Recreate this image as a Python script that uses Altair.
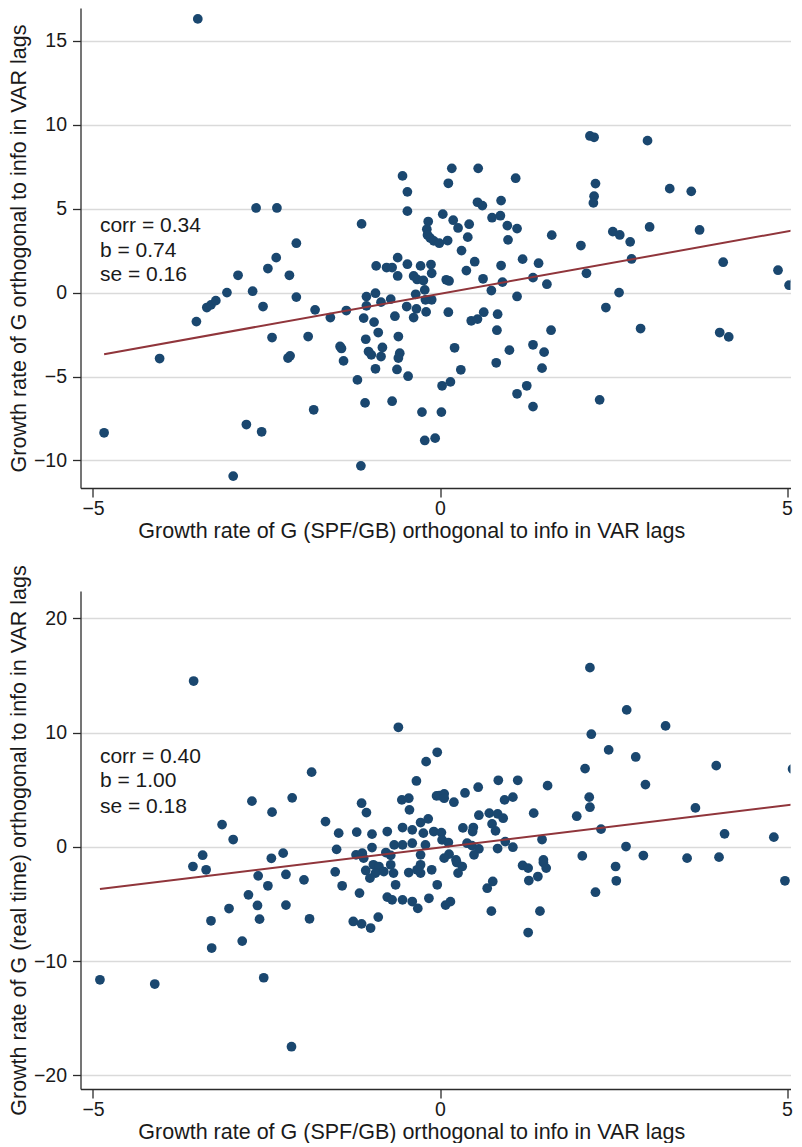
import altair as alt
import pandas as pd

FONT = "Liberation Sans"
NAVY = "#1a476f"
MAROON = "#90353b"
AX = "#2b2b2b"
GRID = "#dadada"
TXT = "#1a1a1a"

x_ticks = [-5, 0, 5]
x_title = "Growth rate of G (SPF/GB) orthogonal to info in VAR lags"

# ---------------- top panel ----------------
top_x = [
    -3.49, -2.65, -2.35, -2.07, -1.13, -0.54, -0.47, -0.47, -0.17, -0.19,
    -0.18, -0.14, -0.09, -0.01, 0.11, 2.16, 2.22, 2.99, 0.17, 0.55,
    0.12, 1.09, 2.24, 3.31, 3.62, 2.22, 2.21, 0.54, 0.61, 0.88,
    0.04, 0.19, 0.26, 0.42, 0.75, 0.87, 0.97, 1.11, 0.40, 0.98,
    1.61, 2.03, 2.49, 2.59, 2.74, 3.02, 3.74, 0.31, 0.50, 0.38,
    0.88, 1.19, 1.42, -0.13, -0.12, 0.09, 0.13, 0.62, 0.90, 1.34,
    1.54, 2.11, 2.76, 4.08, 4.87, 5.03, 5.12, 0.74, 1.11, -0.12,
    2.58, 2.39, 0.12, -0.20, 0.45, 0.54, 0.63, 0.83, 0.82, 1.60,
    2.89, 4.03, 4.16, 0.21, 1.00, 1.34, 1.50, 0.81, 0.30, 1.47,
    0.03, 0.15, 1.11, 1.25, 1.34, 2.30, 0.02, -0.07, -0.22, -4.84,
    -4.04, -3.51, -3.36, -3.30, -3.23, -3.07, -2.91, -2.70, -2.55, -2.48,
    -2.36, -2.17, -2.07, -2.42, -2.19, -2.16, -1.90, -1.80, -1.58, -1.35,
    -1.82, -2.79, -2.57, -2.98, -1.14, -1.44, -1.42, -1.39, -1.19, -1.08,
    -0.69, -0.26, -1.07, -1.03, -0.99, -0.93, -0.89, -0.83, -0.85, -1.10,
    -0.95, -0.65, -0.60, -0.58, -0.60, -0.62, -0.46, -1.06, -0.93, -1.06,
    -0.85, -0.71, -0.92, -0.77, -0.69, -0.61, -0.47, -0.61, -0.38, -0.33,
    -0.24, -0.28, -0.22, -0.35, -0.21, -0.48, -0.34, -0.38,
]
top_y = [
    16.30, 5.04, 5.04, 2.94, 4.09, 6.95, 6.00, 4.85, 4.23, 3.77,
    3.43, 3.24, 3.08, 2.94, 3.10, 9.33, 9.25, 9.05, 7.40, 7.40,
    6.51, 6.81, 6.49, 6.19, 6.03, 5.74, 5.34, 5.38, 5.18, 5.48,
    4.67, 4.31, 3.85, 4.07, 4.46, 4.58, 3.99, 3.81, 3.30, 3.14,
    3.42, 2.80, 3.63, 3.43, 3.02, 3.91, 3.73, 2.50, 1.84, 1.31,
    1.61, 1.99, 1.75, 1.67, 1.15, 0.76, 0.69, 0.82, 0.62, 0.89,
    0.50, 1.15, 2.00, 1.81, 1.33, 0.44, 0.71, 0.12, -0.23, -0.43,
    0.00, -0.89, -1.17, -1.15, -1.68, -1.58, -1.17, -1.29, -2.24, -2.24,
    -2.14, -2.38, -2.64, -3.29, -3.43, -3.11, -3.55, -4.18, -4.60, -4.50,
    -5.55, -5.32, -6.03, -5.55, -6.79, -6.39, -7.12, -8.67, -8.81, -8.35,
    -3.93, -1.73, -0.89, -0.73, -0.48, 0.00, 1.03, 0.08, -0.83, 1.43,
    2.08, 1.03, -0.27, -2.68, -3.90, -3.77, -2.62, -1.03, -1.49, -1.07,
    -6.98, -7.86, -8.29, -10.93, -10.32, -3.21, -3.33, -4.07, -5.20, -6.57,
    -6.47, -7.12, -2.78, -3.51, -3.71, -4.54, -2.38, -3.27, -3.81, -1.52,
    -1.76, -1.41, -2.62, -3.61, -3.90, -4.58, -4.98, -0.24, -0.04, -0.79,
    -0.57, -0.39, 1.59, 1.49, 1.49, 2.08, 1.69, 0.99, 0.99, 0.78,
    0.72, 1.59, 0.16, -0.10, -0.43, -0.83, -0.97, -1.49,
]
top_line_x = [-4.84, 5.12]
top_line_y = [-3.67, 3.73]
top_stats = ["corr = 0.34", "b = 0.74", "se = 0.16"]
top_stats_y = [3.58, 2.14, 0.67]
top_y_ticks = [-10, -5, 0, 5, 10, 15]
top_y_title = "Growth rate of G orthogonal to info in VAR lags"

# ---------------- bottom panel ----------------
bot_x = [
    -3.55, -0.60, -1.85, -2.71, -2.42, -2.13, -3.14, -2.98, -3.42, -2.43,
    -2.26, -1.65, -1.46, -1.49, -1.20, -1.13, -1.06, -0.98, -0.98, -0.76,
    -0.55, -0.45, -0.44, -0.34, -0.20, -0.04, -0.05, -0.54, -0.40, -0.28,
    -0.17, -0.24, -0.09, -0.66, -0.54, -0.40, -0.21, -1.21, -1.12, -0.78,
    -0.71, -0.28, 2.16, 2.69, 3.25, 2.18, 2.43, 2.82, 2.09, 3.98,
    5.08, 2.96, 0.84, 1.12, 0.55, 1.55, 0.36, -0.01, 0.06, 0.06,
    0.20, 0.93, 1.05, 0.56, 0.71, 0.83, 0.91, 1.35, 1.97, 2.15,
    2.16, 3.68, 0.33, 0.48, 0.47, 0.75, 0.80, 0.02, 0.03, 0.12,
    0.39, 0.46, 0.56, 0.83, 0.94, 1.05, 1.47, 2.32, 4.10, 4.81,
    2.68, 2.05, 2.93, 3.56, 4.02, 1.49, 0.49, 0.13, 0.06, 0.23,
    4.97, 2.53, 2.54, 2.24, 1.19, 1.27, 1.49, 1.53, 1.41, 1.28,
    0.68, 0.76, 0.74, 1.44, 1.27, 0.24, 0.32, 0.26, -0.12, -0.04,
    -0.16, 0.08, 0.15, -4.90, -4.11, -2.54, -2.14, -3.56, -3.37, -3.30,
    -3.29, -3.04, -2.85, -2.76, -2.63, -2.60, -2.62, -2.48, -2.22, -2.22,
    -1.96, -1.88, -1.51, -1.41, -1.16, -1.25, -1.13, -1.00, -0.89, -1.10,
    -1.07, -0.96, -0.88, -0.93, -0.81, -1.01, -0.71, -0.67, -0.64, -0.76,
    -0.69, -0.54, -0.40, -0.32, -0.45, -0.28, -0.28, -0.33,
]
bot_y = [
    14.52, 10.47, 6.54, 4.00, 3.04, 4.29, 1.95, 0.64, -0.73, -1.00,
    -0.55, 2.21, 1.20, -0.22, 1.29, 3.82, 3.00, 1.11, -0.06, 1.34,
    4.11, 4.26, 3.24, 5.77, 7.46, 8.28, 4.46, 1.69, 1.49, 2.13,
    2.45, 1.20, 1.34, 0.17, 0.17, 0.32, 0.17, -0.70, -0.55, -0.50,
    -0.75, -0.70, 15.69, 11.99, 10.59, 9.86, 8.49, 7.87, 6.85, 7.11,
    6.82, 5.45, 5.83, 5.83, 5.22, 5.36, 4.72, 4.49, 4.64, 4.26,
    3.91, 4.11, 4.35, 2.77, 2.95, 2.89, 2.51, 2.95, 2.68, 4.35,
    3.47, 3.41, 1.66, 1.69, 1.34, 2.01, 1.40, 1.25, 0.61, 0.38,
    0.32, 0.11, -0.18, -0.15, 0.46, -0.03, 0.64, 1.55, 1.14, 0.85,
    0.03, -0.79, -0.76, -0.99, -0.90, -1.14, -0.70, -0.64, -0.99, -1.14,
    -2.97, -1.72, -2.97, -3.97, -1.63, -1.86, -1.37, -1.86, -2.60, -2.95,
    -3.62, -3.03, -5.63, -5.63, -7.50, -1.37, -1.72, -2.30, -2.01, -3.32,
    -4.50, -5.10, -4.80, -11.64, -12.01, -11.46, -17.50, -1.72, -2.01, -6.47,
    -8.86, -5.40, -8.25, -4.20, -5.13, -6.33, -2.54, -3.41, -2.42, -5.10,
    -2.89, -6.30, -2.19, -3.41, -4.05, -6.53, -6.74, -7.11, -6.15, -0.99,
    -2.07, -1.57, -1.72, -2.30, -2.16, -2.74, -1.57, -2.30, -3.32, -4.40,
    -4.64, -4.64, -4.79, -5.39, -2.25, -2.30, -1.57, -2.01,
]
bot_line_x = [-4.90, 5.08]
bot_line_y = [-3.70, 3.70]
bot_stats = ["corr = 0.40", "b = 1.00", "se = 0.18"]
bot_stats_y = [7.33, 5.20, 2.93]
bot_y_ticks = [-20, -10, 0, 10, 20]
bot_y_title = "Growth rate of G (real time) orthogonal to info in VAR lags"

stats_x = -4.90
X_DOMAIN = [-5.18, 5.05]
PLOT_W = 710


def panel(xs, ys, lx, ly, stats, stats_y, ydom, yticks, ytitle, height):
    xscale = alt.Scale(domain=X_DOMAIN, nice=False, zero=False)
    yscale = alt.Scale(domain=ydom, nice=False, zero=False)
    xaxis = alt.Axis(
        values=x_ticks, format="d", title=x_title, grid=False,
        domainColor=AX, domainWidth=1.3, tickColor=AX, tickWidth=1.3, tickSize=9,
        labelFont=FONT, labelFontSize=19.5, labelColor=TXT, labelPadding=2, labelFlush=False,
        titleFont=FONT, titleFontSize=21.5, titleFontWeight="normal", titleColor=TXT,
        titleX=330.8, titleY=49.5, titleBaseline="alphabetic", titleAlign="center",
    )
    yaxis = alt.Axis(
        values=yticks, format="d", title=ytitle, grid=True, gridColor=GRID, gridWidth=1.5,
        domainColor=AX, domainWidth=1.3, tickColor=AX, tickWidth=1.3, tickSize=8,
        labelFont=FONT, labelFontSize=19.5, labelColor=TXT, labelPadding=6, labelFlush=False,
        titleFont=FONT, titleFontSize=21.5, titleFontWeight="normal", titleColor=TXT,
        titleX=-54.7, titleY=height / 2, titleAngle=270, titleBaseline="alphabetic",
        titleAlign="center",
    )
    pts = alt.Chart(pd.DataFrame({"x": xs, "y": ys})).mark_circle(
        size=95, color=NAVY, opacity=1, clip=True
    ).encode(
        x=alt.X("x:Q", scale=xscale, axis=xaxis),
        y=alt.Y("y:Q", scale=yscale, axis=yaxis),
    )
    fit = alt.Chart(pd.DataFrame({"x": lx, "y": ly})).mark_line(
        color=MAROON, strokeWidth=2, clip=True
    ).encode(x="x:Q", y="y:Q")
    txt = alt.Chart(
        pd.DataFrame({"x": [stats_x] * len(stats), "y": stats_y, "t": stats})
    ).mark_text(
        align="left", baseline="alphabetic", font=FONT, fontSize=21, color=TXT
    ).encode(x="x:Q", y="y:Q", text="t:N")
    return alt.layer(pts, fit, txt).properties(width=PLOT_W, height=height)


top = panel(top_x, top_y, top_line_x, top_line_y, top_stats, top_stats_y,
            [-11.64, 16.95], top_y_ticks, top_y_title, 480)
bottom = panel(bot_x, bot_y, bot_line_x, bot_line_y, bot_stats, bot_stats_y,
               [-21.2, 22.4], bot_y_ticks, bot_y_title, 498)

chart = alt.vconcat(top, bottom, spacing=103, bounds="flush").properties(
    padding={"left": 0.5, "top": 0, "right": 0, "bottom": 0}
).configure_view(stroke=None)

chart.save("out.html", embed_options={"renderer": "svg", "actions": False})
